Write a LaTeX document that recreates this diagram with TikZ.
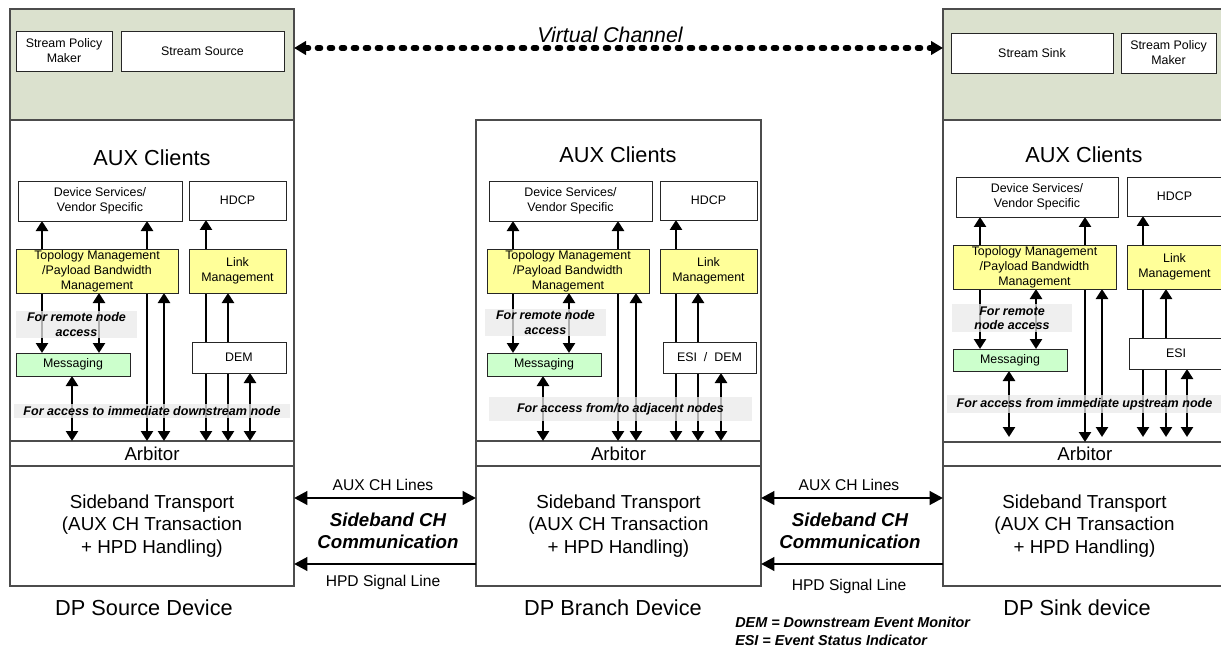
\documentclass[tikz,border=0pt]{standalone}
\usepackage{fontspec}
\setmainfont{Liberation Sans}
\usetikzlibrary{arrows.meta}
\pgfdeclarelayer{back}
\pgfdeclarelayer{arrowlayer}
\pgfdeclarelayer{front}
\pgfsetlayers{back,arrowlayer,main,front}
\definecolor{devgreen}{RGB}{219,225,206}
\definecolor{boxyellow}{RGB}{255,255,153}
\definecolor{msggreen}{RGB}{204,255,204}
\definecolor{bandgray}{RGB}{234,234,234}
\newcommand\fsz[2]{\fontsize{#1pt}{#2pt}\selectfont}
% \bx{style}{name}{x1}{y1}{x2}{y2}{text}  (pixel corners)
\newcommand\bx[7]{\node[#1, minimum width={(#5-#3)*0.75pt}, minimum height={(#6-#4)*0.75pt}] (#2) at ({(#3+#5)/2},{(#4+#6)/2}) {#7};}
\begin{document}
\begin{tikzpicture}[x=0.75pt,y=-0.75pt,
  >={Triangle[width=9pt,length=7.5pt]},
  box/.style={draw=black!85, line width=0.7pt, fill=white, inner sep=0pt, outer sep=0pt, align=center, font=\fsz{9.3}{11.2}},
  ybox/.style={box, fill=boxyellow},
  gbox/.style={box, fill=msggreen},
  band/.style={fill=bandgray, fill opacity=0.75, text opacity=1, inner sep=0pt, outer sep=0pt, align=center, font=\fsz{9.4}{10.8}\bfseries\itshape},
  area/.style={draw=black!70, line width=0.8pt, fill=white, inner sep=0pt, outer sep=0pt, align=center},
  arr/.style={line width=1.9pt, ->},
  darr/.style={line width=1.9pt, <->},
  upshort/.style={shorten >=3.75pt},
  bigd/.style={line width=2.2pt, {Triangle[width=10pt,length=10pt]}-{Triangle[width=10pt,length=10pt]}},
  bigs/.style={line width=2.2pt, -{Triangle[width=10pt,length=10pt]}},
  vc/.style={line width=3.8pt, dash pattern=on 2.6pt off 6.4pt, line cap=round, {Triangle[width=10pt,length=9pt]}-{Triangle[width=10pt,length=9pt]}},
  lbl/.style={font=\fsz{11.7}{14}},
  big/.style={font=\fsz{16.3}{19}},
]
\useasboundingbox (0,0) rectangle (1221,649);

% ---------- device outlines ----------
\begin{pgfonlayer}{back}
\bx{area, fill=devgreen}{greenL}{10}{9}{294}{120}{}
\bx{area}{auxL}{10}{120}{294}{441}{}
\bx{area, font=\fsz{14}{16}}{arbL}{10}{441}{294}{466}{Arbitor}
\bx{area, font=\fsz{14.1}{16.9}}{sbL}{10}{466}{294}{586}{Sideband Transport\\(AUX CH Transaction\\+ HPD Handling)}

\bx{area}{auxC}{476}{120}{761}{441}{}
\bx{area, font=\fsz{14}{16}}{arbC}{476}{441}{761}{466}{Arbitor}
\bx{area, font=\fsz{14.1}{16.9}}{sbC}{476}{466}{761}{586}{Sideband Transport\\(AUX CH Transaction\\+ HPD Handling)}

\bx{area, fill=devgreen}{greenR}{943}{9}{1226}{120}{}
\bx{area}{auxR}{943}{120}{1226}{442}{}
\bx{area, font=\fsz{14}{16}}{arbR}{943}{442}{1226}{466}{\hspace*{0.5pt}Arbitor}
\bx{area, font=\fsz{14.1}{16.9}}{sbR}{943}{466}{1226}{586}{Sideband Transport\\(AUX CH Transaction\\+ HPD Handling)}
\end{pgfonlayer}

% ---------- left device ----------
\bx{box}{spmL}{16}{31}{112}{71}{Stream Policy\\Maker}
\bx{box}{srcL}{121}{31}{284}{71}{Stream Source}
\node[big] (acL) at (152,158) {AUX Clients};
\bx{box}{dsL}{18}{181}{182}{221}{Device Services/\\Vendor Specific}
\bx{box}{hdcpL}{189}{181}{286}{220}{HDCP}
\bx{ybox}{topoL}{16}{249}{178}{293}{Topology Management\\/Payload Bandwidth\\Management}
\bx{ybox}{linkL}{189}{249}{286}{293}{Link\\Management}
\bx{gbox}{msgL}{16}{353}{130}{376}{Messaging}
\bx{box}{demL}{192}{342}{286}{373}{DEM}

% ---------- branch device ----------
\node[big] (acC) at (618,155) {AUX Clients};
\bx{box}{dsC}{489}{181}{652}{221}{Device Services/\\Vendor Specific}
\bx{box}{hdcpC}{660}{181}{757}{220}{HDCP}
\bx{ybox}{topoC}{487}{249}{649}{293}{Topology Management\\/Payload Bandwidth\\Management}
\bx{ybox}{linkC}{660}{249}{757}{293}{Link\\Management}
\bx{gbox}{msgC}{487}{353}{601}{376}{Messaging}
\bx{box}{edC}{663}{342}{756}{373}{ESI~~/~~DEM}

% ---------- sink device ----------
\bx{box}{sinkR}{951}{33}{1113}{73}{Stream Sink}
\bx{box}{spmR}{1121}{33}{1216}{73}{Stream Policy\\Maker}
\node[big] (acR) at (1084,155) {AUX Clients};
\bx{box}{dsR}{956}{177}{1118}{217}{Device Services/\\Vendor Specific}
\bx{box}{hdcpR}{1127}{177}{1222}{216}{HDCP}
\bx{ybox}{topoR}{953}{245}{1116}{289}{Topology Management\\/Payload Bandwidth\\Management}
\bx{ybox}{linkR}{1127}{245}{1222}{289}{Link\\Management}
\bx{gbox}{msgR}{953}{349}{1067}{371}{Messaging}
\bx{box}{esiR}{1129}{338}{1223}{369}{ESI}

% ---------- arrow columns ----------
\coordinate (L1) at (42,0);   \coordinate (L2) at (99,0);   \coordinate (L3) at (72,0);
\coordinate (L4) at (147,0);  \coordinate (L5) at (164,0);  \coordinate (L6) at (206,0);
\coordinate (L7) at (228,0);  \coordinate (L8) at (250,0);
\coordinate (C1) at (513,0);  \coordinate (C2) at (569,0);  \coordinate (C3) at (543,0);
\coordinate (C4) at (618,0);  \coordinate (C5) at (636,0);  \coordinate (C6) at (676,0);
\coordinate (C7) at (698,0);  \coordinate (C8) at (721,0);
\coordinate (R1) at (980,0);  \coordinate (R2) at (1036,0); \coordinate (R3) at (1009,0);
\coordinate (R4) at (1085,0); \coordinate (R5) at (1102,0); \coordinate (R6) at (1143,0);
\coordinate (R7) at (1166,0); \coordinate (R8) at (1187,0);

\begin{pgfonlayer}{arrowlayer}
% left
\draw[arr]  (topoL.north -| L1) -- (dsL.south -| L1);
\draw[arr]  (topoL.south -| L1) -- (msgL.north -| L1);
\draw[darr] (topoL.south -| L2) -- (msgL.north -| L2);
\draw[darr] (msgL.south -| L3) -- (arbL.north -| L3);
\draw[darr] (dsL.south -| L4) -- (arbL.north -| L4);
\draw[darr] (topoL.south -| L5) -- (arbL.north -| L5);
\draw[darr] (hdcpL.south -| L6) -- (arbL.north -| L6);
\draw[darr] (linkL.south -| L7) -- (arbL.north -| L7);
\draw[darr] (demL.south -| L8) -- (arbL.north -| L8);
% branch
\draw[arr]  (topoC.north -| C1) -- (dsC.south -| C1);
\draw[arr]  (topoC.south -| C1) -- (msgC.north -| C1);
\draw[darr] (topoC.south -| C2) -- (msgC.north -| C2);
\draw[darr] (msgC.south -| C3) -- (arbC.north -| C3);
\draw[darr] (dsC.south -| C4) -- (arbC.north -| C4);
\draw[darr] (topoC.south -| C5) -- (arbC.north -| C5);
\draw[darr] (hdcpC.south -| C6) -- (arbC.north -| C6);
\draw[darr] (linkC.south -| C7) -- (arbC.north -| C7);
\draw[darr] (edC.south -| C8) -- (arbC.north -| C8);
% sink
\draw[arr]  (topoR.north -| R1) -- (dsR.south -| R1);
\draw[arr]  (topoR.south -| R1) -- (msgR.north -| R1);
\draw[darr] (topoR.south -| R2) -- (msgR.north -| R2);
\draw[darr, upshort] (msgR.south -| R3) -- (arbR.north -| R3);
\draw[darr] (dsR.south -| R4) -- (arbR.north -| R4);
\draw[darr, upshort] (topoR.south -| R5) -- (arbR.north -| R5);
\draw[darr, upshort] (hdcpR.south -| R6) -- (arbR.north -| R6);
\draw[darr, upshort] (linkR.south -| R7) -- (arbR.north -| R7);
\draw[darr, upshort] (esiR.south -| R8) -- (arbR.north -| R8);
\end{pgfonlayer}

% ---------- shaded notes ----------
\begin{pgfonlayer}{front}
\bx{band}{rbL}{16}{311}{137}{338}{For remote node\\access}
\bx{band}{abL}{14}{404}{290}{418}{For access to immediate downstream node}
\bx{band}{rbC}{485}{309}{606}{336}{For remote node\\access}
\bx{band}{abC}{489}{397}{752}{421}{For access from/to adjacent nodes}
\bx{band}{rbR}{952}{304}{1072}{332}{For remote\\node access}
\bx{band}{abR}{947}{395}{1222}{413}{For access from immediate upstream node}
\end{pgfonlayer}

% ---------- virtual channel ----------
\coordinate (vcy) at (0,48);
\draw[vc] (greenL.east |- vcy) -- (greenR.west |- vcy);
\node[font=\fsz{16}{19}\itshape] (vclab) at (610,35) {Virtual Channel};

% ---------- sideband lines ----------
\coordinate (auxy) at (0,498);
\coordinate (hpdy) at (0,564);
\draw[bigd] (sbL.east |- auxy) -- (sbC.west |- auxy);
\draw[bigs] (sbC.west |- hpdy) -- (sbL.east |- hpdy);
\draw[bigd] (sbC.east |- auxy) -- (sbR.west |- auxy);
\draw[bigs] (sbR.west |- hpdy) -- (sbC.east |- hpdy);

\node[lbl] (auxlab1) at (383,485) {AUX CH Lines};
\node[font=\fsz{14}{16.5}\bfseries\itshape, align=center] (sbc1) at (388,531) {Sideband CH\\Communication};
\node[lbl] (hpdlab1) at (383,582) {HPD Signal Line};
\node[lbl] (auxlab2) at (849,485) {AUX CH Lines};
\node[font=\fsz{14}{16.5}\bfseries\itshape, align=center] (sbc2) at (850,531) {Sideband CH\\Communication};
\node[lbl] (hpdlab2) at (849,586) {HPD Signal Line};

% ---------- device names ----------
\node[big] (nameL) at (144,608) {DP Source Device};
\node[big] (nameC) at (613,608) {DP Branch Device};
\node[big] (nameR) at (1077,608) {DP Sink device};

% ---------- legend ----------
\node[anchor=west, align=left, inner sep=0pt, font=\fsz{10.8}{13.5}\bfseries\itshape] (legend) at (735,631) {DEM = Downstream Event Monitor\\ESI = Event Status Indicator};
\end{tikzpicture}
\end{document}
